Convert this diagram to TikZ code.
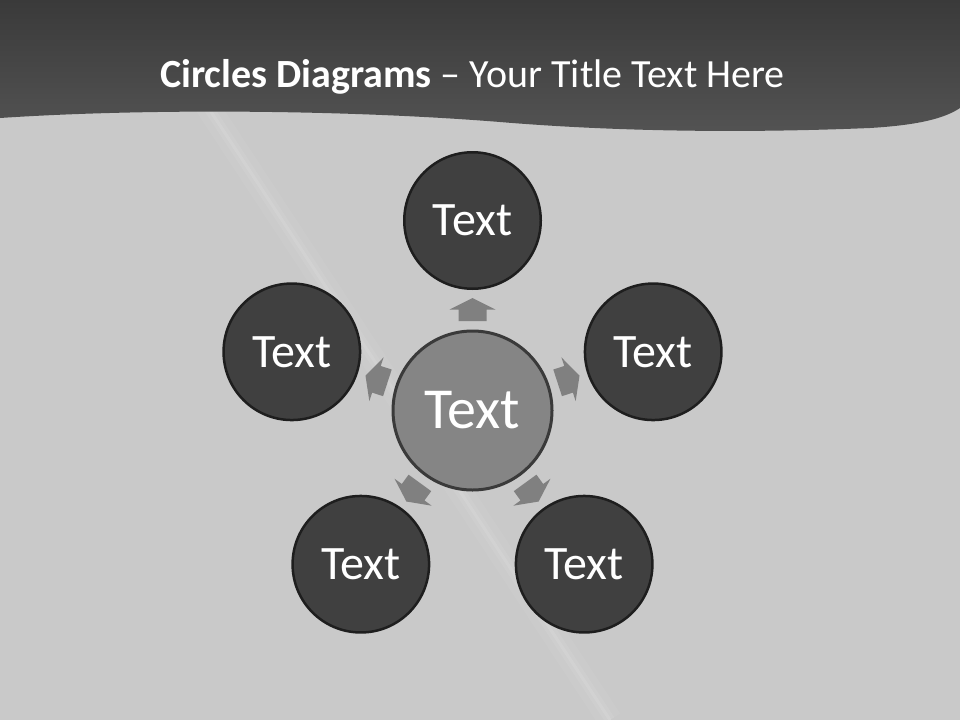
\documentclass[tikz,border=0pt]{standalone}
\usepackage{fontspec}
\setmainfont{Carlito}
\usetikzlibrary{calc}
\definecolor{bgc}{HTML}{C9C9C9}
\definecolor{bandtop}{HTML}{3A3A3A}
\definecolor{bandbot}{HTML}{535353}
\definecolor{outerfill}{HTML}{404040}
\definecolor{outerline}{HTML}{1E1E1E}
\definecolor{centerfill}{HTML}{858585}
\definecolor{centerline}{HTML}{3A3A3A}
\definecolor{arrowfill}{HTML}{808080}
\tikzset{
  outercircle/.style={circle, draw=outerline, line width=2.5pt, fill=outerfill, minimum size=136.5pt, inner sep=0pt, text=white, font=\fontsize{48}{50}\selectfont},
  centercircle/.style={circle, draw=centerline, line width=3pt, fill=centerfill, minimum size=159pt, inner sep=0pt, text=white, font=\fontsize{58}{60}\selectfont},
  blockarrow/.style={fill=arrowfill, draw=none},
}
\begin{document}
\begin{tikzpicture}[x=1pt,y=-1pt]
\useasboundingbox (0,0) rectangle (960,720);
\fill[bgc] (0,0) rectangle (960,720);
% faint light streak
\draw[white, opacity=0.05, line width=24pt] (200,95) -- (610,720);
\draw[white, opacity=0.07, line width=10pt] (200,95) -- (610,720);
\draw[white, opacity=0.10, line width=3pt] (200,95) -- (610,720);
% title band
\shade[top color=bandtop, bottom color=bandbot]
  (0,0) -- (960,0) -- (960,108)
  .. controls (945,118) and (920,125) .. (870,128)
  .. controls (750,133) and (620,132) .. (500,122)
  .. controls (350,110) and (150,108) .. (0,118) -- cycle;
\node[text=white, anchor=base, font=\fontsize{40}{46}\selectfont] (title) at (472.5,87)
  {\textbf{Circles Diagrams} – Your Title Text Here};
% circles
\coordinate (c0) at (472.5,410.5);
\foreach \a/\n in {-90/n1,-18/n2,54/n3,126/n4,198/n5}{
  \node[outercircle] (\n) at ($(c0)+(\a:190)$) {Text};
}
\node[centercircle] (c) at (c0) {Text};
% block arrows
\foreach \a in {-90,-18,54,126,198}{
  \fill[blockarrow]
    ($(c.center)+(\a:89.5)+(\a+90:14)$) --
    ($(c.center)+(\a:101)+(\a+90:14)$) --
    ($(c.center)+(\a:101)+(\a+90:23)$) --
    ($(c.center)+(\a:112.5)$) --
    ($(c.center)+(\a:101)+(\a-90:23)$) --
    ($(c.center)+(\a:101)+(\a-90:14)$) --
    ($(c.center)+(\a:89.5)+(\a-90:14)$) -- cycle;
}
\end{tikzpicture}
\end{document}
